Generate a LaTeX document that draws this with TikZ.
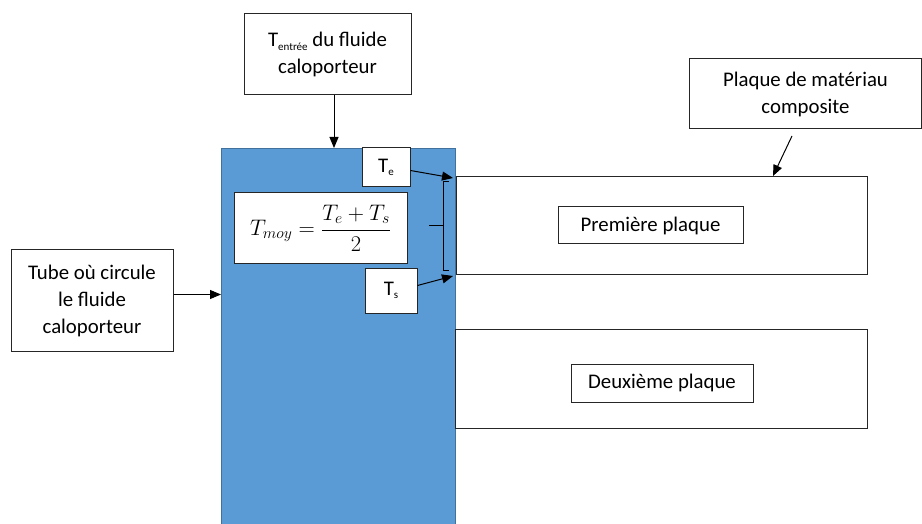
\RequirePackage{fix-cm}
\documentclass[tikz,border=0pt]{standalone}
\usepackage{fontspec}
\setmainfont{Carlito}
\usetikzlibrary{arrows.meta}
\definecolor{tubeblue}{RGB}{91,155,213}
\definecolor{tubeedge}{RGB}{65,113,156}
\tikzset{
  box/.style={draw=black!85, line width=1pt, fill=white, inner sep=0pt, align=center,
    font=\fontsize{20.8}{27}\selectfont},
  arr/.style={draw=black, line width=1pt, -{Triangle[length=11pt,width=9pt]}},
}
\begin{document}
\begin{tikzpicture}[x=1pt,y=-1pt]
\useasboundingbox (0,0) rectangle (922,524);
% blue tube
\node[draw=tubeedge, line width=0.8pt, fill=tubeblue, minimum width=234pt, minimum height=378pt, inner sep=0pt, anchor=north west] (blue) at (221,148) {};
% plates
\node[box, minimum width=411pt, minimum height=97pt] (p1) at (661.5,225.5) {};
\node[box, minimum width=185pt, minimum height=37pt] (p1l) at (650.5,225.5) {Première plaque};
\node[box, minimum width=412pt, minimum height=99pt] (p2) at (661,378.5) {};
\node[box, minimum width=182pt, minimum height=38pt] (p2l) at (662,383) {Deuxième plaque};
% labels
\node[box, minimum width=167pt, minimum height=81pt] (entree) at (327.5,54.5)
  {T\raisebox{-0.35ex}{\fontsize{11}{11}\selectfont entrée} du fluide\\caloporteur};
\node[box, minimum width=162pt, minimum height=101pt] (tubel) at (92,300.5)
  {Tube où circule\\le fluide\\caloporteur};
\node[box, minimum width=232pt, minimum height=70pt, anchor=west] (comp) at (689,94)
  {Plaque de matériau\\composite};
\node[box, minimum width=48pt, minimum height=39pt] (te) at (386,167.5)
  {T\raisebox{-0.35ex}{\fontsize{11}{11}\selectfont e}};
\node[box, minimum width=52pt, minimum height=45pt] (ts) at (391,290.5)
  {T\raisebox{-0.35ex}{\fontsize{11}{11}\selectfont s}};
\node[box, minimum width=173pt, minimum height=70pt, font=\fontsize{22.5}{27}\selectfont] (moy) at (320.5,228)
  {$\displaystyle T_{moy} = \frac{T_e+T_s}{2}$};
% bracket
\draw[line width=1pt, black] (449,182) -- (443,182) -- (443,270) -- (449,270);
\draw[line width=1pt, black] (443,226) -- (429,226);
% arrows
\draw[arr] ([xshift=6.5pt]entree.south) -- ([xshift=6.5pt]entree.south |- blue.north);
\draw[arr] ([yshift=6pt]tubel.east) -- ([yshift=6pt]tubel.east -| blue.west);
\draw[arr] ([yshift=-3pt]te.east) -- (453,178);
\draw[arr] ([yshift=5pt]ts.east) -- (453,276);
\coordinate (compfoot) at (792,136);
\draw[arr] (compfoot) -- (773,176);
\end{tikzpicture}
\end{document}
